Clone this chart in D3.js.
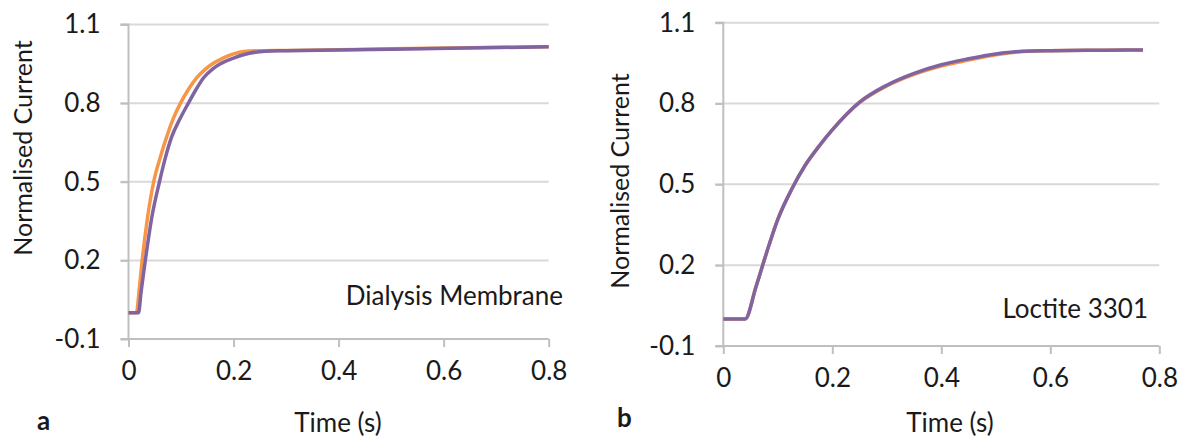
<!DOCTYPE html>
<html>
<head>
<meta charset="utf-8">
<script src="https://cdn.jsdelivr.net/npm/d3@7"></script>
<style>
  body { margin: 0; background: #fff; }
  text { font-family: Lato, "Open Sans", sans-serif; fill: #1a1a1a; }
  .grid line { stroke: #d9d9d9; stroke-width: 2; }
  .axis path, .axis line { stroke: #bfbfbf; stroke-width: 2; }
</style>
</head>
<body>
<svg id="canvas" width="1181" height="439"></svg>
<script>
// y ticks (Excel style, step 0.3)
var yTicks = [-0.1, 0.2, 0.5, 0.8, 1.1];
var yTickLabels = ["-0.1", "0.2", "0.5", "0.8", "1.1"];
var xTicks = [0, 0.2, 0.4, 0.6, 0.8];
var xTickLabels = ["0", "0.2", "0.4", "0.6", "0.8"];

// panel a : Dialysis Membrane
var timeA_orange = [0, 0.015, 0.02, 0.026, 0.036, 0.048, 0.06, 0.07, 0.085, 0.099, 0.114, 0.13, 0.145, 0.16, 0.18, 0.2, 0.22, 0.25, 0.3, 0.5, 0.8];
var curA_orange  = [0, 0, 0.08, 0.2, 0.36, 0.5, 0.59, 0.655, 0.74, 0.8, 0.852, 0.897, 0.927, 0.95, 0.972, 0.988, 0.997, 1.0, 1.001, 1.007, 1.015];
var timeA_purple = [0, 0.019, 0.024, 0.032, 0.044, 0.059, 0.07, 0.082, 0.098, 0.114, 0.128, 0.143, 0.16, 0.175, 0.2, 0.23, 0.26, 0.3, 0.5, 0.8];
var curA_purple  = [0, 0, 0.08, 0.2, 0.36, 0.5, 0.59, 0.67, 0.74, 0.8, 0.85, 0.897, 0.93, 0.95, 0.972, 0.99, 0.998, 1.0, 1.006, 1.015];

// panel b : Loctite 3301
var timeB = [0, 0.04, 0.06, 0.08, 0.1, 0.125, 0.15, 0.175, 0.2, 0.25, 0.3, 0.35, 0.4, 0.45, 0.5, 0.55, 0.6, 0.7, 0.77];
var curB_orange = [0, 0, 0.12, 0.25, 0.37, 0.48, 0.57, 0.64, 0.702, 0.803, 0.865, 0.908, 0.939, 0.961, 0.981, 0.993, 0.996, 0.998, 0.999];
var curB_purple = [0, 0, 0.12, 0.25, 0.37, 0.48, 0.57, 0.64, 0.702, 0.805, 0.868, 0.912, 0.944, 0.966, 0.984, 0.994, 0.996, 0.998, 0.999];

var orange = "#f79646";
var purple = "#8064a2";

var svg = d3.select("#canvas");

var panels = [
  { x0: 128.5, x1: 548.7, y0: 339, y1: 24.5, label: "Dialysis Membrane", lx: 563, ly: 305,
    tx: 23, ty: 148, letter: "a", ax: 37, ay: 430, xt: 338,
    series: [[timeA_orange, curA_orange, orange], [timeA_purple, curA_purple, purple]] },
  { x0: 723.3, x1: 1159.3, y0: 346, y1: 22.7, label: "Loctite 3301", lx: 1148, ly: 318,
    tx: 620, ty: 181, letter: "b", ax: 617, ay: 427, xt: 950,
    series: [[timeB, curB_orange, orange], [timeB, curB_purple, purple]] }
];

panels.forEach(function(p) {
  var x = d3.scaleLinear().domain([0, 0.8]).range([p.x0, p.x1]);
  var y = d3.scaleLinear().domain([-0.1, 1.1]).range([p.y0, p.y1]);

  // gridlines
  svg.append("g")
    .attr("class", "grid")
    .selectAll("line")
    .data(yTicks.slice(1))
    .enter().append("line")
    .attr("x1", p.x0 - 8)
    .attr("x2", p.x1)
    .attr("y1", function(d) { return y(d); })
    .attr("y2", function(d) { return y(d); });

  // y axis
  var yAxis = svg.append("g")
    .attr("class", "axis")
    .attr("transform", "translate(" + p.x0 + ",0)")
    .call(d3.axisLeft(y).tickValues(yTicks).tickSize(8).tickPadding(20)
      .tickFormat(function(d, i) { return yTickLabels[i]; }));
  yAxis.select(".domain").attr("d", "M-8," + p.y0 + "H0V" + p.y1 + "H-8");
  yAxis.selectAll("text").style("font-size", "26px").attr("fill", "#1a1a1a");

  // x axis
  var xAxis = svg.append("g")
    .attr("class", "axis")
    .attr("transform", "translate(0," + p.y0 + ")")
    .call(d3.axisBottom(x).tickValues(xTicks).tickSize(8).tickPadding(15)
      .tickFormat(function(d, i) { return xTickLabels[i]; }));
  xAxis.select(".domain").attr("d", "M" + p.x0 + ",0H" + p.x1);
  xAxis.selectAll("text").style("font-size", "26px").attr("fill", "#1a1a1a");

  // curves
  var line = d3.line()
    .x(function(d) { return x(d[0]); })
    .y(function(d) { return y(d[1]); })
    .curve(d3.curveMonotoneX);

  p.series.forEach(function(s) {
    var pts = s[0].map(function(t, i) { return [t, s[1][i]]; });
    svg.append("path")
      .datum(pts)
      .attr("fill", "none")
      .attr("stroke", s[2])
      .attr("stroke-width", 3.5)
      .attr("stroke-linejoin", "round")
      .attr("d", line);
  });

  // texts
  svg.append("text")
    .attr("x", p.lx).attr("y", p.ly)
    .attr("text-anchor", "end")
    .style("font-size", "26px")
    .text(p.label);

  svg.append("text")
    .attr("transform", "translate(" + p.tx + "," + p.ty + ") rotate(-90)")
    .attr("text-anchor", "middle")
    .attr("dy", "0.35em")
    .style("font-size", "25px")
    .text("Normalised Current");

  svg.append("text")
    .attr("x", p.xt).attr("y", 432)
    .attr("text-anchor", "middle")
    .style("font-size", "26px")
    .text("Time (s)");

  svg.append("text")
    .attr("x", p.ax).attr("y", p.ay)
    .style("font-size", "26px")
    .style("font-weight", "bold")
    .text(p.letter);
});
</script>
</body>
</html>
